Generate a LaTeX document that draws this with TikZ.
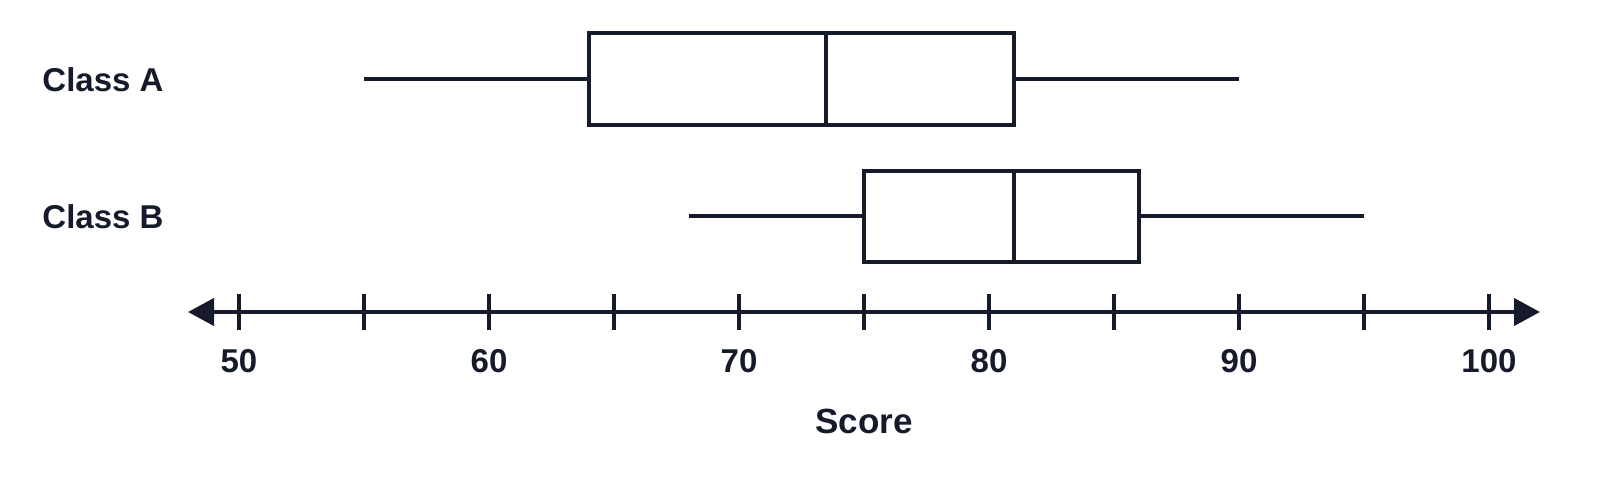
\documentclass[tikz,border=0pt]{standalone}
\usepackage{fontspec}
\setmainfont{Liberation Sans}
\usetikzlibrary{arrows.meta}
\definecolor{ink}{HTML}{151B2B}
\begin{document}
\begin{tikzpicture}[x=1pt,y=-1pt,
  ln/.style={draw=ink,line width=4pt},
  lbl/.style={text=ink,font=\fontsize{33}{38}\selectfont\bfseries},
  tick/.style={ln}]
\useasboundingbox (0,0) rectangle (1600,489);
% axis
\coordinate (al) at (188,312);
\coordinate (ar) at (1540,312);
\draw[ln,{Triangle[length=26pt,width=27pt]}-{Triangle[length=26pt,width=27pt]},fill=ink] (al) -- (ar);
\foreach \v in {50,55,...,100}{
  \draw[tick] ({239+25*(\v-50)},294) -- ({239+25*(\v-50)},330);}
\foreach \v in {50,60,...,100}{
  \node[lbl] (t\v) at ({239+25*(\v-50)},361) {\v};}
\node[lbl,font=\fontsize{35}{40}\selectfont\bfseries] (score) at (864,421) {Score};
% Class A
\node[lbl] (la) at (103,80) {Class A};
\coordinate (aw1) at (364,79); \coordinate (aw2) at (1239,79);
\draw[ln] (589,33) rectangle (1014,125);
\coordinate (aq1) at (589,79); \coordinate (aq3) at (1014,79);
\draw[ln] (aw1) -- (aq1); \draw[ln] (aq3) -- (aw2);
\draw[ln] (826,33) -- (826,125);
% Class B
\node[lbl] (lb) at (103,217) {Class B};
\coordinate (bw1) at (689,216); \coordinate (bw2) at (1364,216);
\draw[ln] (864,171) rectangle (1139,262);
\coordinate (bq1) at (864,216); \coordinate (bq3) at (1139,216);
\draw[ln] (bw1) -- (bq1); \draw[ln] (bq3) -- (bw2);
\draw[ln] (1014,171) -- (1014,262);
\end{tikzpicture}
\end{document}
